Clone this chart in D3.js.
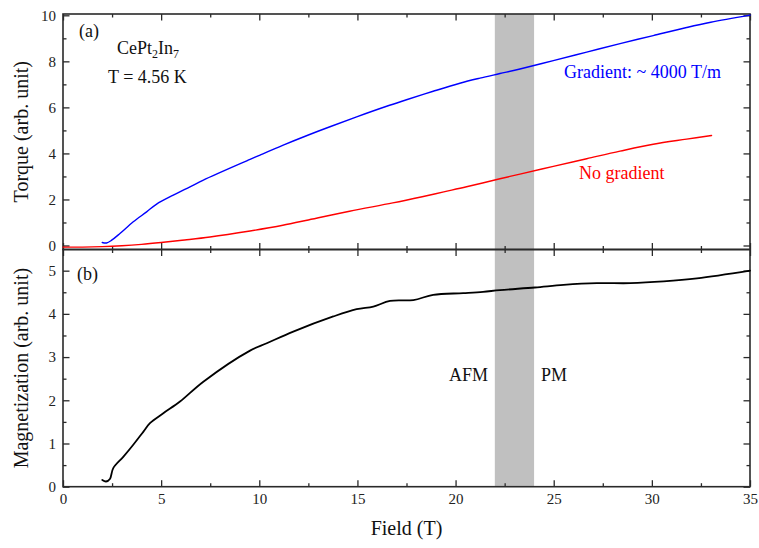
<!DOCTYPE html>
<html>
<head>
<meta charset="utf-8">
<script src="https://cdn.jsdelivr.net/npm/d3@7"></script>
<style>
  html, body { margin: 0; padding: 0; background: #fff; }
  svg { display: block; }
  svg text { font-family: "Liberation Serif", "Times New Roman", serif !important; }
</style>
</head>
<body>
<svg id="chart" width="759" height="548"></svg>
<script>
// ---------------- data ----------------
const fieldGradient = [2.0, 2.22, 2.48, 2.9, 3.58, 4.26, 4.77, 5.62, 6.47, 7.15, 9.53, 10.04, 11.22, 12.5, 13.6, 14.96, 16.49, 17.5, 18.86, 20.22, 21.24, 22.26, 23.28, 24.98, 26.68, 28.38, 30.07, 31.77, 33.0, 35.0];
const torqueGradient = [0.13, 0.11, 0.23, 0.52, 1.03, 1.46, 1.80, 2.19, 2.55, 2.84, 3.74, 3.93, 4.36, 4.80, 5.16, 5.59, 6.05, 6.33, 6.70, 7.05, 7.27, 7.47, 7.67, 8.03, 8.40, 8.77, 9.12, 9.47, 9.70, 10.01];

const fieldNoGradient = [0, 1, 2, 3, 4, 5, 6.2, 7.49, 9.53, 10.5, 11.2, 12.5, 14.6, 16.8, 18.3, 19.4, 20.56, 22.26, 23.28, 24.98, 26.68, 28.38, 30.07, 31.77, 33.04];
const torqueNoGradient = [-0.07, -0.07, -0.05, -0.01, 0.05, 0.13, 0.24, 0.37, 0.63, 0.77, 0.88, 1.11, 1.49, 1.85, 2.12, 2.33, 2.55, 2.90, 3.10, 3.44, 3.77, 4.10, 4.40, 4.62, 4.78];

const fieldMag = [2.0, 2.19, 2.39, 2.56, 3.07, 3.58, 4.09, 4.43, 5.11, 5.96, 7.15, 9.53, 10.38, 11.73, 13.77, 14.96, 15.81, 16.66, 17.85, 18.86, 20.39, 21.4, 22.26, 24.04, 25.5, 27.2, 28.9, 30.6, 32.3, 35.0];
const magnetization = [0.155, 0.12, 0.18, 0.43, 0.69, 0.97, 1.27, 1.47, 1.70, 1.97, 2.43, 3.15, 3.32, 3.59, 3.94, 4.11, 4.17, 4.30, 4.32, 4.44, 4.48, 4.51, 4.55, 4.61, 4.67, 4.71, 4.71, 4.75, 4.82, 5.00];

const xTicks = [0, 5, 10, 15, 20, 25, 30, 35];
const xMinorTicks = [2.5, 7.5, 12.5, 17.5, 22.5, 27.5, 32.5];
const torqueTicks = [0, 2, 4, 6, 8, 10];
const torqueMinorTicks = [1, 3, 5, 7, 9];
const magTicks = [0, 1, 2, 3, 4, 5];
const magMinorTicks = [0.5, 1.5, 2.5, 3.5, 4.5];
const bandRange = [22, 24];

// ---------------- layout ----------------
const FONT = '"Liberation Serif", "Times New Roman", serif';
const svg = d3.select("#chart");
const L = 63, R = 750, T = 14, MID = 249.5, B = 486.7;
const frameColor = "#2a2a2a";

const x = d3.scaleLinear().domain([0, 35]).range([L, R]);
const yTop = d3.scaleLinear().domain([-0.174, 10.057]).range([MID, T]);
const yBot = d3.scaleLinear().domain([0, 5.49]).range([B, MID]);

// gray band
svg.append("rect")
  .attr("x", x(bandRange[0])).attr("y", T)
  .attr("width", x(bandRange[1]) - x(bandRange[0]))
  .attr("height", B - T)
  .attr("fill", "#c0c0c0");

// axes helper
function addAxis(axisGen, tx, ty, ticks, size, withLabels, padding) {
  const a = axisGen.tickValues(ticks).tickSize(size).tickSizeOuter(0);
  if (!withLabels) a.tickFormat(""); else a.tickFormat(d3.format("d"));
  if (padding !== undefined) a.tickPadding(padding);
  const g = svg.append("g").attr("transform", `translate(${tx},${ty})`).call(a);
  g.attr("font-family", FONT).attr("font-size", 15);
  g.select(".domain").remove();
  g.selectAll(".tick line").attr("stroke", frameColor).attr("stroke-width", 1.3);
  g.selectAll(".tick text").style("font-family", FONT).attr("font-size", 15).attr("fill", "#222");
  return g;
}

const MAJ = -6.5, MIN = -3.5;
// top panel
addAxis(d3.axisLeft(yTop), L, 0, torqueTicks, MAJ, true, 7);
addAxis(d3.axisLeft(yTop), L, 0, torqueMinorTicks, MIN, false);
addAxis(d3.axisRight(yTop), R, 0, torqueTicks, MAJ, false);
addAxis(d3.axisRight(yTop), R, 0, torqueMinorTicks, MIN, false);
addAxis(d3.axisTop(x), 0, T, xTicks, MAJ, false);
addAxis(d3.axisTop(x), 0, T, xMinorTicks, MIN, false);
addAxis(d3.axisBottom(x), 0, MID, xTicks, MAJ, false);
addAxis(d3.axisBottom(x), 0, MID, xMinorTicks, MIN, false);
// bottom panel
addAxis(d3.axisLeft(yBot), L, 0, magTicks, MAJ, true, 7);
addAxis(d3.axisLeft(yBot), L, 0, magMinorTicks, MIN, false);
addAxis(d3.axisRight(yBot), R, 0, magTicks, MAJ, false);
addAxis(d3.axisRight(yBot), R, 0, magMinorTicks, MIN, false);
addAxis(d3.axisTop(x), 0, MID, xTicks, MAJ, false);
addAxis(d3.axisTop(x), 0, MID, xMinorTicks, MIN, false);
addAxis(d3.axisBottom(x), 0, B, xTicks, MAJ, true, 7);
addAxis(d3.axisBottom(x), 0, B, xMinorTicks, MIN, false);

// frames
svg.append("rect").attr("x", L).attr("y", T).attr("width", R - L).attr("height", MID - T)
  .attr("fill", "none").attr("stroke", frameColor).attr("stroke-width", 1.6);
svg.append("rect").attr("x", L).attr("y", MID).attr("width", R - L).attr("height", B - MID)
  .attr("fill", "none").attr("stroke", frameColor).attr("stroke-width", 1.6);

// curves
function drawLine(xs, ys, yScale, color, w) {
  const pts = xs.map((v, i) => [v, ys[i]]);
  const line = d3.line().x(d => x(d[0])).y(d => yScale(d[1])).curve(d3.curveCatmullRom.alpha(0.5));
  svg.append("path").datum(pts).attr("d", line)
    .attr("fill", "none").attr("stroke", color).attr("stroke-width", w)
    .attr("stroke-linejoin", "round").attr("stroke-linecap", "round");
}
drawLine(fieldNoGradient, torqueNoGradient, yTop, "#ff0000", 1.4);
drawLine(fieldGradient, torqueGradient, yTop, "#0000ff", 1.4);
drawLine(fieldMag, magnetization, yBot, "#000000", 1.8);

// texts
function txt(s, tx, ty, opts = {}) {
  return svg.append("text").attr("x", tx).attr("y", ty)
    .style("font-family", FONT)
    .attr("font-size", opts.size || 18)
    .attr("fill", opts.color || "#111")
    .attr("text-anchor", opts.anchor || "start")
    .text(s);
}
txt("(a)", 79, 37);
const ce = svg.append("text").attr("x", 117).attr("y", 54).style("font-family", FONT).attr("font-size", 18).attr("fill", "#111");
ce.append("tspan").text("CePt");
ce.append("tspan").attr("font-size", 12).attr("dy", 4).text("2");
ce.append("tspan").attr("dy", -4).text("In");
ce.append("tspan").attr("font-size", 12).attr("dy", 4).text("7");
txt("T = 4.56 K", 108, 83);
txt("Gradient: ~ 4000 T/m", 564, 78, { color: "#0000ff" });
txt("No gradient", 579, 179, { color: "#ff0000" });
txt("(b)", 77, 280);
txt("AFM", 488, 381, { anchor: "end" });
txt("PM", 541, 381);

// axis titles
txt("Field (T)", x(17.5), 535, { size: 20, anchor: "middle" });
svg.append("text").attr("transform", `translate(28,${(T + MID) / 2}) rotate(-90)`)
  .style("font-family", FONT)
  .attr("text-anchor", "middle").attr("font-size", 20).attr("fill", "#111")
  .text("Torque (arb. unit)");
svg.append("text").attr("transform", `translate(28,${(MID + B) / 2}) rotate(-90)`)
  .style("font-family", FONT)
  .attr("text-anchor", "middle").attr("font-size", 20).attr("fill", "#111")
  .text("Magnetization (arb. unit)");
</script>
</body>
</html>
